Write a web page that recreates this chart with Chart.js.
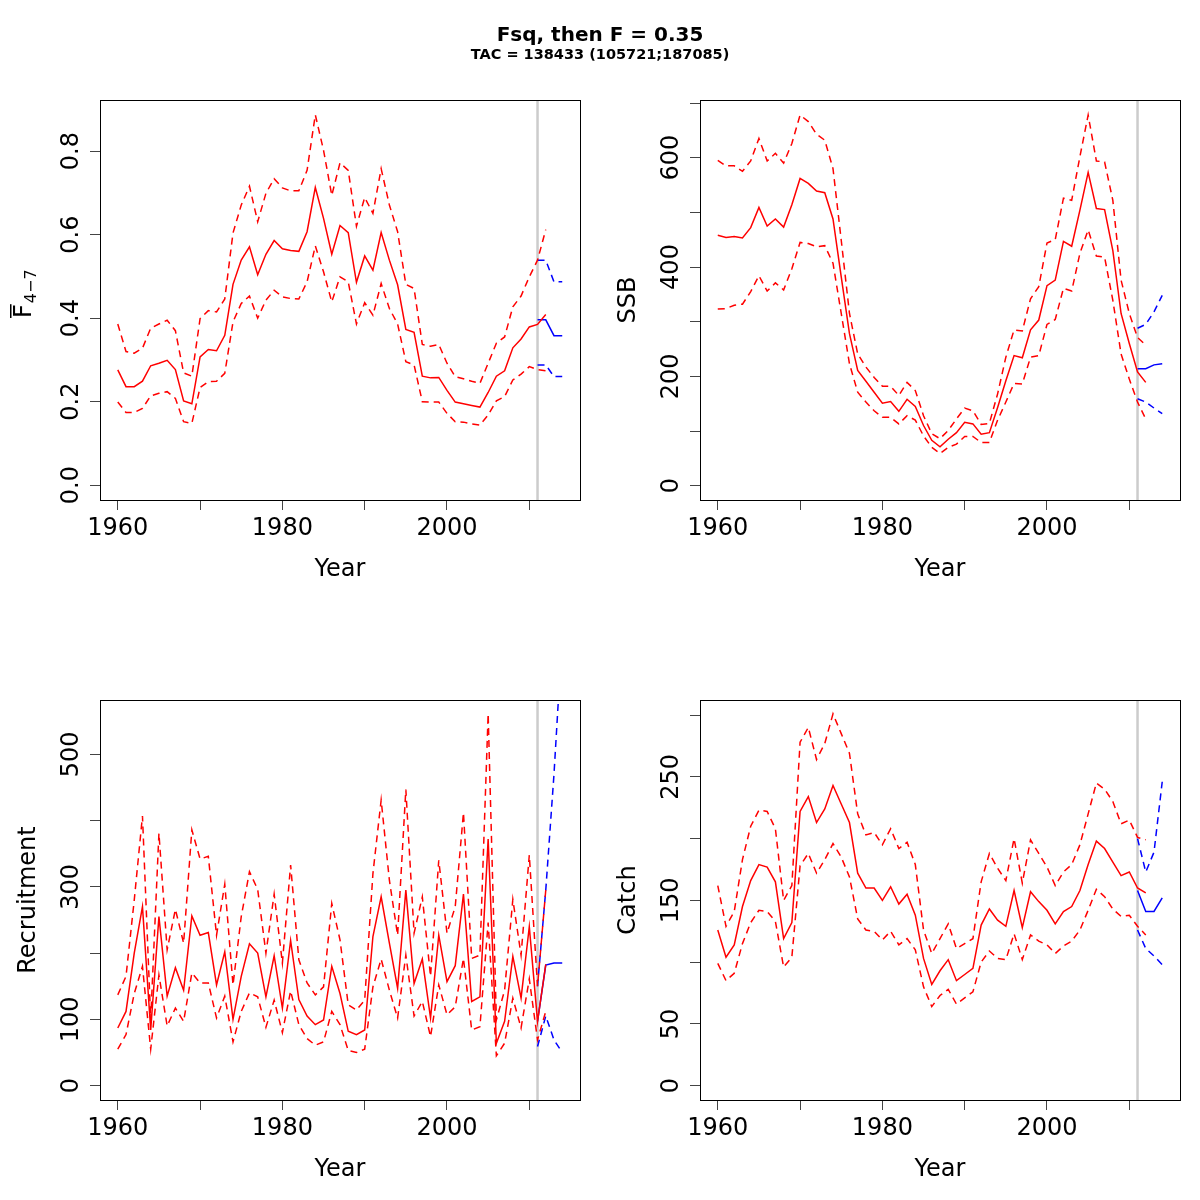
<!DOCTYPE html>
<html lang="en">
<head>
<meta charset="UTF-8" />
<title>Fsq, then F = 0.35</title>
<script src="https://cdn.jsdelivr.net/npm/chart.js"></script>
<style>
  html, body { margin: 0; padding: 0; background: #fff; }
  body { font-family: "DejaVu Sans", sans-serif; color: #000; }
  .page { position: relative; width: 1200px; height: 1200px; }
  .panel { position: absolute; width: 600px; height: 600px; }
  .title { position: absolute; left: 0; width: 1200px; text-align: center; font-weight: bold; z-index: 2; }
  .main { top: 24px; font-size: 20px; line-height: 20px; }
  .sub { top: 47px; font-size: 14.5px; line-height: 14px; }
</style>
</head>
<body>
<div class="page">
  <div class="title main">Fsq, then F = 0.35</div>
  <div class="title sub">TAC = 138433 (105721;187085)</div>
  <canvas class="panel" id="fbarCanvas" width="600" height="600" style="left:0;top:0"></canvas>
  <canvas class="panel" id="ssbCanvas" width="600" height="600" style="left:600px;top:0"></canvas>
  <canvas class="panel" id="recCanvas" width="600" height="600" style="left:0;top:600px"></canvas>
  <canvas class="panel" id="catchCanvas" width="600" height="600" style="left:600px;top:600px"></canvas>
</div>
<script>
  const years = [1960, 1961, 1962, 1963, 1964, 1965, 1966, 1967, 1968, 1969,
    1970, 1971, 1972, 1973, 1974, 1975, 1976, 1977, 1978, 1979,
    1980, 1981, 1982, 1983, 1984, 1985, 1986, 1987, 1988, 1989,
    1990, 1991, 1992, 1993, 1994, 1995, 1996, 1997, 1998, 1999,
    2000, 2001, 2002, 2003, 2004, 2005, 2006, 2007, 2008, 2009,
    2010, 2011, 2012];
  const projYears = [2011, 2012, 2013, 2014];
  const cutYear = 2011;
  const xTicks = [1960, 1970, 1980, 1990, 2000, 2010];
  const xLabels = [1960, 1980, 2000];

  // mean F, ages 4-7
  const fbar = [0.276, 0.236, 0.236, 0.249, 0.286, 0.292, 0.299, 0.277, 0.202, 0.195,
    0.307, 0.325, 0.322, 0.359, 0.481, 0.539, 0.571, 0.504, 0.553, 0.586,
    0.566, 0.562, 0.560, 0.607, 0.713, 0.639, 0.553, 0.622, 0.605, 0.486,
    0.549, 0.515, 0.605, 0.539, 0.480, 0.373, 0.366, 0.261, 0.257, 0.258,
    0.227, 0.199, 0.195, 0.191, 0.187, 0.222, 0.261, 0.274, 0.329, 0.350,
    0.379, 0.385, 0.409];
  const fbarHi = [0.386, 0.320, 0.316, 0.328, 0.376, 0.386, 0.395, 0.370, 0.269, 0.261,
    0.399, 0.418, 0.415, 0.446, 0.604, 0.671, 0.716, 0.631, 0.699, 0.734,
    0.712, 0.705, 0.705, 0.754, 0.887, 0.802, 0.694, 0.772, 0.754, 0.620,
    0.689, 0.651, 0.758, 0.671, 0.607, 0.481, 0.471, 0.337, 0.333, 0.337,
    0.292, 0.260, 0.255, 0.249, 0.244, 0.292, 0.340, 0.355, 0.427, 0.453,
    0.499, 0.539, 0.612];
  const fbarLo = [0.199, 0.174, 0.174, 0.184, 0.214, 0.220, 0.224, 0.208, 0.152, 0.148,
    0.234, 0.248, 0.249, 0.268, 0.391, 0.435, 0.453, 0.400, 0.443, 0.467,
    0.451, 0.447, 0.446, 0.487, 0.573, 0.511, 0.439, 0.499, 0.487, 0.386,
    0.437, 0.407, 0.483, 0.423, 0.386, 0.296, 0.288, 0.200, 0.199, 0.199,
    0.172, 0.152, 0.151, 0.147, 0.144, 0.168, 0.202, 0.212, 0.252, 0.266,
    0.284, 0.277, 0.274];
  const fbarProj = [0.396, 0.396, 0.358, 0.358];
  const fbarProjHi = [0.539, 0.539, 0.487, 0.487];
  const fbarProjLo = [0.288, 0.288, 0.260, 0.260];
  const fbarTicks = [0, 0.2, 0.4, 0.6, 0.8];
  const fbarTickText = ['0.0', '0.2', '0.4', '0.6', '0.8'];

  // spawning stock biomass
  const ssb = [458, 454, 456, 453, 472, 509, 475, 488, 473, 514,
    562, 553, 539, 536, 488, 382, 278, 211, 191, 171,
    151, 154, 136, 158, 145, 110, 83, 71, 85, 97,
    116, 113, 94, 97, 143, 192, 238, 234, 285, 303,
    366, 376, 447, 438, 504, 573, 507, 505, 430, 315,
    260, 208, 189];
  const ssbHi = [595, 585, 585, 575, 594, 635, 594, 608, 590, 626,
    678, 666, 643, 632, 580, 449, 315, 241, 217, 198,
    182, 182, 165, 189, 174, 128, 95, 86, 101, 122,
    142, 137, 112, 114, 168, 235, 285, 283, 342, 364,
    444, 450, 526, 522, 602, 678, 594, 592, 522, 376,
    315, 271, 257];
  const ssbLo = [323, 324, 330, 332, 355, 384, 356, 371, 358, 397,
    445, 443, 437, 439, 407, 315, 223, 171, 153, 137,
    125, 125, 113, 128, 120, 91, 70, 59, 70, 76,
    90, 90, 79, 79, 120, 153, 187, 186, 235, 238,
    295, 304, 361, 356, 425, 468, 420, 418, 339, 241,
    195, 153, 122];
  const ssbProj = [214, 214, 221, 223];
  const ssbProjHi = [288, 295, 318, 348];
  const ssbProjLo = [159, 153, 142, 132];
  const ssbTicks = [0, 100, 200, 300, 400, 500, 600, 700];
  const ssbLabelled = [0, 200, 400, 600];

  // recruitment
  const rec = [87, 112, 200, 270, 84, 255, 135, 178, 144, 256,
    227, 231, 152, 202, 100, 165, 214, 200, 134, 196,
    117, 219, 130, 105, 92, 99, 180, 139, 82, 77,
    84, 225, 285, 215, 147, 295, 154, 191, 102, 227,
    157, 181, 289, 127, 134, 372, 64, 97, 195, 132,
    240, 97, 183];
  const recHi = [137, 165, 280, 407, 100, 381, 205, 266, 215, 386,
    342, 346, 227, 304, 152, 255, 323, 296, 200, 289,
    185, 333, 190, 155, 137, 149, 275, 220, 122, 114,
    129, 320, 431, 310, 227, 447, 230, 285, 165, 340,
    230, 270, 412, 192, 197, 561, 99, 144, 281, 197,
    348, 150, 295];
  const recLo = [55, 77, 139, 180, 55, 167, 90, 117, 97, 170,
    155, 155, 102, 135, 66, 112, 140, 134, 88, 129,
    80, 143, 92, 71, 61, 66, 112, 92, 53, 50,
    55, 149, 191, 144, 102, 197, 105, 127, 74, 152,
    107, 119, 192, 84, 89, 246, 45, 64, 132, 87,
    161, 69, 112];
  const recProj = [97, 182, 185, 185];
  const recProjHi = [150, 295, 470, 680];
  const recProjLo = [59, 105, 69, 50];
  const recTicks = [0, 100, 200, 300, 400, 500];
  const recLabelled = [0, 100, 300, 500];

  // catch
  const catchAll = [126, 104, 114, 145, 166, 179, 177, 165, 119, 132,
    222, 234, 213, 224, 243, 228, 213, 172, 160, 160,
    150, 161, 147, 155, 138, 103, 82, 93, 102, 85,
    90, 95, 130, 143, 134, 129, 158, 128, 157, 149,
    142, 131, 141, 145, 158, 179, 198, 192, 181, 170,
    173, 160, 156];
  const catchHi = [162, 129, 141, 183, 210, 223, 222, 208, 150, 162,
    278, 290, 264, 277, 301, 285, 269, 220, 203, 205,
    195, 208, 192, 197, 179, 126, 107, 119, 131, 111,
    115, 119, 165, 188, 176, 166, 200, 164, 199, 188,
    177, 162, 173, 179, 195, 220, 245, 240, 230, 212,
    215, 201, 199];
  const catchLo = [99, 85, 91, 115, 132, 142, 141, 133, 96, 104,
    178, 188, 172, 183, 196, 185, 169, 135, 126, 125,
    118, 125, 114, 119, 110, 80, 64, 73, 78, 66,
    71, 76, 100, 109, 103, 102, 123, 102, 122, 117,
    114, 107, 113, 117, 126, 142, 159, 153, 143, 137,
    138, 129, 122];
  const catchProj = [158, 141, 141, 152];
  const catchProjHi = [200, 173, 189, 246];
  const catchProjLo = [126, 111, 105, 98];
  const catchTicks = [0, 50, 100, 150, 200, 250, 300];
  const catchLabelled = [0, 50, 150, 250];

  const FONT = "DejaVu Sans";
  const panels = {};

  function pts(xs, ys) {
    return xs.map((x, i) => ({ x: x, y: ys[i] }));
  }

  function line(data, colour, dashed) {
    return {
      data: data,
      borderColor: colour,
      borderWidth: 1.5,
      borderDash: dashed ? [7, 5] : [],
      pointRadius: 0,
      tension: 0,
      fill: false
    };
  }

  // box round the plot, rotated y tick labels, and the F-bar axis label
  const rAxis = {
    id: "rAxis",
    afterDraw(chart) {
      const p = panels[chart.canvas.id];
      const ctx = chart.ctx;
      const a = chart.chartArea;
      const ys = chart.scales.y;
      ctx.save();
      ctx.strokeStyle = "#000";
      ctx.lineWidth = 1;
      ctx.strokeRect(Math.round(a.left) + 0.5, Math.round(a.top) + 0.5,
        Math.round(a.right - a.left), Math.round(a.bottom - a.top));

      ctx.fillStyle = "#000";
      ctx.font = "24px '" + FONT + "'";
      ctx.textAlign = "center";
      ctx.textBaseline = "alphabetic";
      p.labelValues.forEach((v, i) => {
        ctx.save();
        ctx.translate(a.left - 22, ys.getPixelForValue(v));
        ctx.rotate(-Math.PI / 2);
        ctx.fillText(p.labelText[i], 0, 0);
        ctx.restore();
      });

      if (p.fbarLabel) {
        ctx.save();
        ctx.translate(31, 318);
        ctx.rotate(-Math.PI / 2);
        ctx.textAlign = "left";
        ctx.fillText("F", 0, 0);
        const fw = ctx.measureText("F").width;
        ctx.fillRect(0, -21, fw, 1.5);
        ctx.font = "16px '" + FONT + "'";
        ctx.fillText("4\u22127", fw + 1, 5);
        ctx.restore();
      }
      ctx.restore();
    }
  };

  function makePanel(id, cfg) {
    panels[id] = {
      labelValues: cfg.labelValues,
      labelText: cfg.labelText,
      fbarLabel: !cfg.yTitle
    };
    const datasets = [
      line(pts(years, cfg.mid), "#ff0000", false),
      line(pts(years, cfg.hi), "#ff0000", true),
      line(pts(years, cfg.lo), "#ff0000", true),
      line(pts(projYears, cfg.proj), "#0000ff", false),
      line(pts(projYears, cfg.projHi), "#0000ff", true),
      line(pts(projYears, cfg.projLo), "#0000ff", true),
      {
        data: [{ x: cutYear, y: cfg.yMin }, { x: cutYear, y: cfg.yMax }],
        borderColor: "#cccccc",
        borderWidth: 2.5,
        pointRadius: 0
      }
    ];

    new Chart(document.getElementById(id), {
      type: "line",
      data: { datasets: datasets },
      options: {
        responsive: false,
        animation: false,
        events: [],
        layout: { padding: { left: 0, top: 100, right: 20, bottom: 0 } },
        plugins: { legend: { display: false }, tooltip: { enabled: false } },
        scales: {
          x: {
            type: "linear",
            min: 1957.84,
            max: 2016.16,
            afterBuildTicks: s => { s.ticks = xTicks.map(v => ({ value: v })); },
            afterFit: s => { s.height = 100; },
            ticks: {
              autoSkip: false,
              maxRotation: 0,
              padding: 4,
              color: "#000",
              font: { family: FONT, size: 24 },
              callback: v => (xLabels.includes(v) ? String(v) : "")
            },
            grid: { display: true, drawOnChartArea: false, drawTicks: true, tickLength: 10, color: "#444" },
            border: { display: false },
            title: {
              display: true,
              text: "Year",
              color: "#000",
              font: { family: FONT, size: 24 },
              padding: { top: 0, bottom: 16 }
            }
          },
          y: {
            type: "linear",
            min: cfg.yMin,
            max: cfg.yMax,
            afterBuildTicks: s => { s.ticks = cfg.yTicks.map(v => ({ value: v })); },
            afterFit: s => { s.width = 100; },
            ticks: { callback: () => "" },
            grid: { display: true, drawOnChartArea: false, drawTicks: true, tickLength: 10, color: "#444" },
            border: { display: false },
            title: {
              display: !!cfg.yTitle,
              text: cfg.yTitle || "",
              color: "#000",
              font: { family: FONT, size: 24 },
              padding: { top: 14, bottom: 0 }
            }
          }
        }
      },
      plugins: [rAxis]
    });
  }

  makePanel("fbarCanvas", {
    mid: fbar, hi: fbarHi, lo: fbarLo,
    proj: fbarProj, projHi: fbarProjHi, projLo: fbarProjLo,
    yMin: -0.0355, yMax: 0.9225, yTicks: fbarTicks,
    labelValues: fbarTicks, labelText: fbarTickText, yTitle: null
  });
  makePanel("ssbCanvas", {
    mid: ssb, hi: ssbHi, lo: ssbLo,
    proj: ssbProj, projHi: ssbProjHi, projLo: ssbProjLo,
    yMin: -26.2, yMax: 705.5, yTicks: ssbTicks,
    labelValues: ssbLabelled, labelText: ssbLabelled.map(String), yTitle: "SSB"
  });
  makePanel("recCanvas", {
    mid: rec, hi: recHi, lo: recLo,
    proj: recProj, projHi: recProjHi, projLo: recProjLo,
    yMin: -21.7, yMax: 582, yTicks: recTicks,
    labelValues: recLabelled, labelText: recLabelled.map(String), yTitle: "Recruitment"
  });
  makePanel("catchCanvas", {
    mid: catchAll, hi: catchHi, lo: catchLo,
    proj: catchProj, projHi: catchProjHi, projLo: catchProjLo,
    yMin: -11.6, yMax: 312.2, yTicks: catchTicks,
    labelValues: catchLabelled, labelText: catchLabelled.map(String), yTitle: "Catch"
  });
</script>
</body>
</html>
